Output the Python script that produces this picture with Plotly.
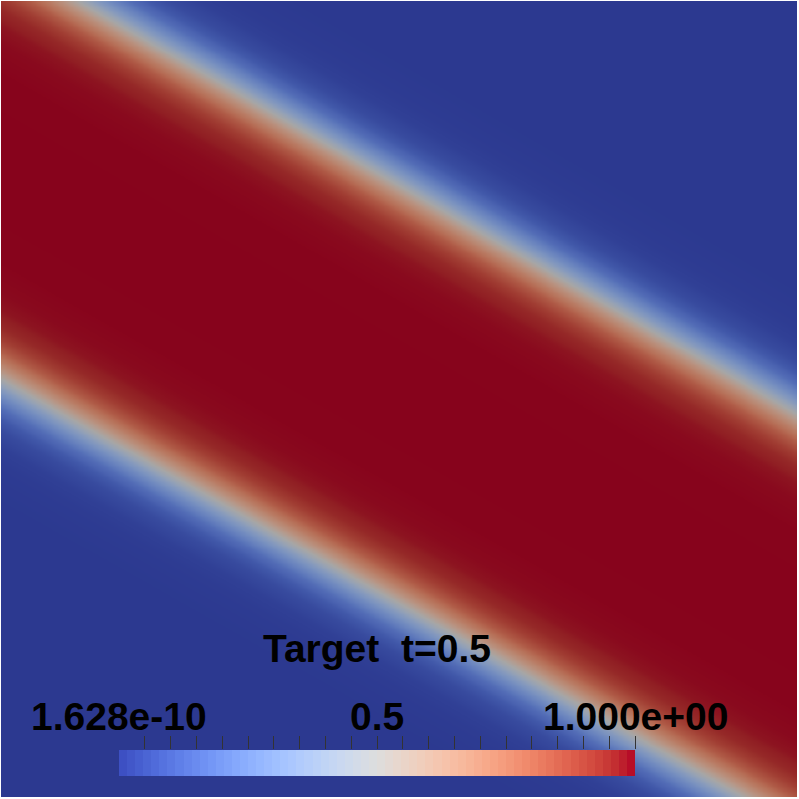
import numpy as np
import plotly.graph_objects as go

# ---------------- data ----------------
# 0.5-contour of the band edges (pixel-like field coordinates, y downward),
# given at the left (x=0) and right (x=796) edges of the field
edge_x = [0, 796]
upper_edge_y = [-44, 413]
lower_edge_y = [378, 826]

# cross-section profile: signed distance (px, positive = inside band) vs value
profile_d = [-360, -150, -100, -75, -60, -45, -35, -25, -15, -8, 0,
             8, 15, 25, 35, 45, 60, 75, 100, 150, 360]
profile_v = [0.0, 0.00006, 0.0016, 0.008, 0.02, 0.052, 0.096, 0.17, 0.28, 0.37, 0.5,
             0.63, 0.72, 0.83, 0.904, 0.948, 0.98, 0.992, 0.9984, 0.99994, 1.0]

value_min = 1.628e-10
value_max = 1.0
bar_title = "Target\u00a0\u00a0t=0.5"
bar_labels = ["1.628e-10", "0.5", "1.000e+00"]
bar_label_pos = [0.0, 0.5, 1.0]
bar_ticks = [round(0.05 * k, 2) for k in range(1, 21)]
n_bar_bands = 64

# coolwarm (Moreland) colour table
cw_pos = [i / 32 for i in range(33)]
cw_rgb = [
    (59, 76, 192), (68, 90, 204), (77, 104, 215), (87, 117, 225), (98, 130, 234),
    (108, 142, 241), (119, 154, 247), (130, 165, 251), (141, 176, 254), (152, 185, 255),
    (163, 194, 255), (174, 201, 253), (184, 208, 249), (194, 213, 244), (204, 217, 238),
    (213, 219, 230), (221, 221, 221), (229, 216, 209), (236, 211, 197), (241, 204, 185),
    (245, 196, 173), (247, 187, 160), (247, 177, 148), (247, 166, 135), (244, 154, 123),
    (241, 141, 111), (236, 127, 99), (229, 112, 88), (222, 96, 77), (213, 80, 66),
    (203, 62, 56), (192, 40, 47), (180, 4, 38)]
shade = 0.75  # lighting on the rendered surface

# ---------------- build field table ----------------
W = 796
N = 320
cx = (np.arange(N) + 0.5) * W / N
cy = (np.arange(N) + 0.5) * W / N
X, Y = np.meshgrid(cx, cy)
su = (upper_edge_y[1] - upper_edge_y[0]) / (edge_x[1] - edge_x[0])
sl = (lower_edge_y[1] - lower_edge_y[0]) / (edge_x[1] - edge_x[0])
yu = upper_edge_y[0] + su * X
yl = lower_edge_y[0] + sl * X
du = (Y - yu) / np.sqrt(1 + su ** 2)
dl = (yl - Y) / np.sqrt(1 + sl ** 2)
d = np.minimum(du, dl)
Z = np.interp(d, profile_d, profile_v)
Z = np.clip(Z, value_min, value_max)
Z = np.round(Z, 5)

field_scale = [[p, "rgb(%d,%d,%d)" % tuple(int(round(c * shade)) for c in rgb)]
               for p, rgb in zip(cw_pos, cw_rgb)]
bar_scale = [[p, "rgb(%d,%d,%d)" % rgb] for p, rgb in zip(cw_pos, cw_rgb)]

fig = go.Figure()
fig.add_trace(go.Heatmap(x=cx, y=cy, z=Z, colorscale=field_scale, zmin=0, zmax=1,
                         zsmooth="best", showscale=False, hoverinfo="skip",
                         xaxis="x", yaxis="y"))

band_centers = (np.arange(n_bar_bands) + 0.5) / n_bar_bands
fig.add_trace(go.Heatmap(x=band_centers, y=[0.5], z=[band_centers.tolist()],
                         colorscale=bar_scale, zmin=0, zmax=1, showscale=False,
                         hoverinfo="skip", xaxis="x2", yaxis="y2"))

# plot area: pixels 1..797 in both directions
top_px, left_px, size_px = 1, 1, 796
def px_x(p):
    return (p - left_px) / size_px
def px_y(p):
    return (top_px + size_px - p) / size_px

bar_dom_x = [px_x(119), px_x(635)]
bar_dom_y = [px_y(776), px_y(750)]

font = dict(family="Liberation Sans, Arial, sans-serif", size=39, color="black")
annotations = []
for lab, pos in zip(bar_labels, bar_label_pos):
    annotations.append(dict(text="<b>%s</b>" % lab, x=pos, xref="x2", y=px_y(716), yref="paper",
                            xanchor="center", yanchor="middle", showarrow=False, font=font))
annotations.append(dict(text="<b>%s</b>" % bar_title, x=0.5, xref="x2", y=px_y(648), yref="paper",
                        xanchor="center", yanchor="middle", showarrow=False, font=font))

fig.update_layout(
    width=799, height=799,
    margin=dict(l=1, r=2, t=1, b=2, pad=0),
    paper_bgcolor="white", plot_bgcolor="white",
    showlegend=False,
    xaxis=dict(range=[0, W], visible=False, domain=[0, 1]),
    yaxis=dict(range=[W, 0], visible=False, domain=[0, 1]),
    xaxis2=dict(domain=bar_dom_x, range=[0, 1], anchor="y2", side="top",
                ticks="outside", tickvals=bar_ticks, ticklen=13, tickwidth=1,
                tickcolor="#333333", showticklabels=False, showgrid=False,
                zeroline=False, showline=False),
    xaxis3=dict(domain=bar_dom_x, range=[0, 1], anchor="y2", side="top", overlaying="x2",
                ticks="inside", tickvals=[0.5], ticklen=11, tickwidth=1,
                tickcolor="#333333", showticklabels=False, showgrid=False,
                zeroline=False, showline=False),
    yaxis2=dict(domain=bar_dom_y, range=[0, 1], anchor="x2", visible=False),
    annotations=annotations,
)

fig.write_html("out.html", config={"displayModeBar": False},
               post_script="document.body.style.margin='0';document.body.style.overflow='hidden';")
